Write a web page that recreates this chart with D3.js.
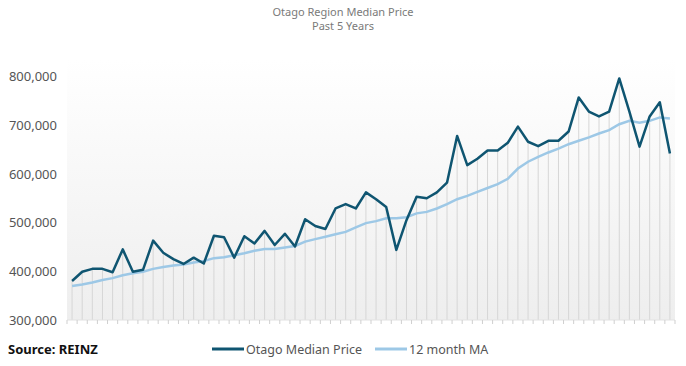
<!DOCTYPE html>
<html>
<head>
<meta charset="utf-8">
<script src="https://cdn.jsdelivr.net/npm/d3@7"></script>
<style>
  body { margin: 0; background: #fff; }
  .chart text { font-family: "Noto Sans", sans-serif; }
</style>
</head>
<body>
<div class="chart"></div>
<script>
// chart values (60 months)
var months = d3.range(60);
var medianPrice = [380000,399000,405000,405000,398000,445000,399000,403000,463000,438000,
  425000,415000,428000,416000,473000,470000,428000,472000,457000,483000,
  454000,477000,451000,507000,493000,487000,529000,538000,529000,562000,
  548000,532000,444000,505000,553000,550000,562000,582000,678000,618000,
  631000,648000,648000,664000,697000,666000,657000,668000,668000,687000,
  757000,728000,718000,728000,796000,728000,656000,718000,747000,642000];
var movingAvg = [370000,373000,377000,382000,386000,392000,396000,399000,405000,409000,
  412000,414000,418000,421000,427000,429000,433000,437000,442000,446000,
  446000,449000,452000,461000,466000,471000,476000,481000,490000,499000,
  503000,509000,509000,511000,519000,522000,529000,538000,548000,555000,
  563000,571000,579000,590000,611000,625000,635000,644000,652000,661000,
  668000,675000,683000,690000,702000,709000,705000,709000,716000,714000];
var yTicks = [300000,400000,500000,600000,700000,800000];
var seriesNames = ["Otago Median Price", "12 month MA"];
var seriesColors = ["#0f5571", "#9dc8e6"];

var width = 686, height = 366;
var margins = {t:60, r:11, b:46, l:67};
var plotWidth = width - margins.l - margins.r,
    plotHeight = height - margins.t - margins.b;

var svg = d3.select('.chart')
    .append('svg')
    .attr('width', width)
    .attr('height', height);

// title
svg.append('text')
    .attr('x', width/2).attr('y', 16)
    .attr('text-anchor', 'middle')
    .style('font-size', '11px').style('fill', '#7a7a7a')
    .text('Otago Region Median Price');
svg.append('text')
    .attr('x', width/2).attr('y', 30)
    .attr('text-anchor', 'middle')
    .style('font-size', '11px').style('fill', '#7a7a7a')
    .text('Past 5 Years');

var x = d3.scaleBand().domain(months).range([0, plotWidth]);
var y = d3.scaleLinear().domain([300000, 800000]).range([plotHeight, plotHeight - 5*48.7]);

var plot = svg.append('g')
    .attr('transform', 'translate(' + margins.l + ',' + margins.t + ')');

// soft grey gradient behind the plot
var grad = svg.append('defs').append('linearGradient')
    .attr('id', 'bg').attr('x1', 0).attr('y1', 0).attr('x2', 0).attr('y2', 1);
grad.append('stop').attr('offset', '0%').attr('stop-color', '#ffffff');
grad.append('stop').attr('offset', '100%').attr('stop-color', '#eeeeee');
plot.append('rect')
    .attr('width', plotWidth).attr('height', plotHeight)
    .style('fill', 'url(#bg)');

// drop lines from the median price to the axis
var cx = function(i){ return x(i) + x.bandwidth()/2; };
plot.selectAll('.drop')
    .data(months)
    .enter().append('line')
    .attr('class', 'drop')
    .attr('x1', cx).attr('x2', cx)
    .attr('y1', function(i){ return y(medianPrice[i]); })
    .attr('y2', plotHeight)
    .style('stroke', '#d6d6d6').style('stroke-width', 1);

// x axis: just ticks at band edges
var xAxis = plot.append('g')
    .attr('transform', 'translate(0,' + plotHeight + ')');
xAxis.append('line')
    .attr('x1', 0).attr('x2', plotWidth)
    .style('stroke', '#e2e2e2');
xAxis.selectAll('.tick')
    .data(months.concat([60]))
    .enter().append('line')
    .attr('x1', function(i){ return i*x.step(); })
    .attr('x2', function(i){ return i*x.step(); })
    .attr('y1', 0).attr('y2', 4)
    .style('stroke', '#cfcfcf');

// y axis labels
var yAxis = plot.append('g')
    .call(d3.axisLeft(y).tickValues(yTicks).tickSize(0).tickPadding(10).tickFormat(d3.format(',')));
yAxis.select('.domain').remove();
yAxis.selectAll('text')
    .style('font-size', '13px').style('fill', '#555');

// the two lines
var lineGen = function(vals){
    return d3.line()
        .x(function(d, i){ return cx(i); })
        .y(function(d){ return y(d); })(vals);
};
plot.append('path')
    .attr('d', lineGen(movingAvg))
    .style('fill', 'none').style('stroke', seriesColors[1]).style('stroke-width', 2.5);
plot.append('path')
    .attr('d', lineGen(medianPrice))
    .style('fill', 'none').style('stroke', seriesColors[0]).style('stroke-width', 2.5)
    .style('stroke-linejoin', 'round');

// source note
svg.append('text')
    .attr('x', 8).attr('y', 354)
    .style('font-size', '13px').style('font-weight', 'bold').style('fill', '#111')
    .text('Source: REINZ');

// legend
var legendX = [212, 375];
seriesNames.forEach(function(name, k){
    var g = svg.append('g').attr('transform', 'translate(' + legendX[k] + ',349)');
    g.append('line').attr('x1', 0).attr('x2', 32)
        .style('stroke', seriesColors[k]).style('stroke-width', 3);
    g.append('text').attr('x', 34).attr('y', 4.5)
        .style('font-size', '12.5px').style('fill', '#555')
        .text(name);
});
</script>
</body>
</html>
